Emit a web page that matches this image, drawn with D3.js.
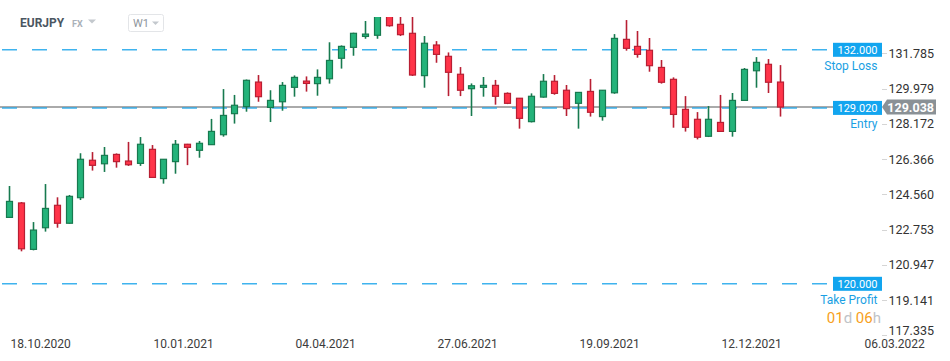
<!DOCTYPE html>
<html>
<head>
<meta charset="utf-8">
<script src="https://cdn.jsdelivr.net/npm/d3@7"></script>
<style>
  html, body { margin: 0; padding: 0; background: #fff; }
  svg { display: block; font-family: Roboto, "Noto Sans", sans-serif; }
</style>
</head>
<body>
<svg id="chart" width="950" height="361"></svg>
<script>
// ---------- DATA ----------
const symbol = "EURJPY";
const market = "FX";
const interval = "W1";
const firstWeek = "2020-10-18";
const openV  = [123.38,124.12,121.74,122.85,124.00,123.08,124.39,126.31,126.13,126.61,
                126.27,126.15,126.87,125.37,126.24,127.13,126.82,127.11,127.62,128.70,
                129.06,130.32,129.02,129.31,130.05,130.37,130.24,130.49,131.54,132.10,
                132.66,132.72,133.75,133.28,132.82,130.65,132.22,131.64,130.72,129.98,
                130.05,130.15,129.74,129.49,128.29,129.55,130.36,129.90,129.23,129.84,
                128.55,129.77,132.51,132.15,131.95,131.07,130.46,128.92,128.41,127.54,
                128.25,127.79,129.38,130.90,131.23,130.32];
const highV  = [124.99,124.17,123.14,125.09,124.41,124.53,126.67,126.73,126.99,126.66,
                127.25,127.50,127.09,126.36,127.35,127.15,127.30,128.43,129.96,129.66,
                130.45,130.68,129.90,130.32,130.66,130.61,130.97,132.36,132.20,132.85,
                133.45,134.00,134.12,133.85,133.70,132.68,132.42,131.84,131.09,130.25,
                130.58,130.43,129.79,129.49,129.74,130.73,130.68,130.17,129.81,130.48,
                129.91,132.78,133.50,132.94,132.58,131.45,130.56,129.60,128.78,129.09,
                129.66,129.76,131.04,131.60,131.50,131.19];
const lowV   = [123.35,121.64,121.69,122.65,122.85,123.06,124.27,125.78,125.71,125.93,
                126.02,126.02,125.40,125.11,125.62,126.06,126.44,127.11,127.52,128.19,
                128.80,129.31,128.27,128.85,129.57,129.83,129.62,130.24,131.01,131.67,
                132.54,132.54,133.16,132.68,130.63,130.03,131.31,129.60,129.60,128.58,
                129.57,129.16,129.19,127.93,128.25,129.52,129.67,128.58,127.93,128.55,
                128.34,129.72,131.93,131.57,130.85,130.24,127.98,127.78,127.38,127.50,
                127.76,127.52,129.37,130.03,129.76,128.55];
const closeV = [124.20,121.77,122.73,123.84,123.08,124.46,126.36,126.05,126.56,126.24,
                126.08,127.13,125.43,126.36,127.13,126.97,127.18,127.79,128.61,129.13,
                130.41,129.57,129.38,130.15,130.56,130.25,130.56,131.43,132.15,132.82,
                132.78,133.80,133.21,132.75,130.68,132.31,131.74,130.82,129.90,130.13,
                130.15,129.59,129.23,128.46,129.59,130.36,129.74,128.96,129.79,128.77,
                129.90,132.56,132.05,131.74,131.16,130.31,128.66,128.00,127.49,128.41,
                127.79,129.38,130.97,131.33,130.31,129.04];
const yTickValues = [131.785,129.979,128.172,126.366,124.560,122.753,120.947,119.141,117.335];
const xTickDates = ["2020-10-18","2021-01-10","2021-04-04","2021-06-27","2021-09-19","2021-12-12","2022-03-06"];
const levelNames  = ["Stop Loss","Entry","Take Profit"];
const levelValues = [132.000, 129.020, 120.000];
const lastPrice = 129.038;
const countdown = [["01","num"],["d ","unit"],["06","num"],["h","unit"]];

// ---------- SCALES ----------
const parse = d3.utcParse("%Y-%m-%d");
const start = parse(firstWeek);
const dates = openV.map((_, i) => d3.utcDay.offset(start, 7 * i));
const candles = dates.map((d, i) => ({date: d, o: openV[i], h: highV[i], l: lowV[i], c: closeV[i]}));

const x = d3.scaleUtc()
  .domain([parse("2020-10-18"), parse("2022-03-06")])
  .range([9.3, 862.5]);
const y = d3.scaleLinear().domain([120, 132]).range([283.3, 49.3]);

const svg = d3.select("#chart");
const GREEN = "#24b37a", GREEN_D = "#177a4f";
const RED = "#ff3449", RED_D = "#b81f33";
const BLUE = "#1ea6ec";

svg.append("defs").append("clipPath").attr("id", "plotclip")
  .append("rect").attr("x", 0).attr("y", 17).attr("width", 880).attr("height", 320);

// ---------- HEADER ----------
svg.append("text").attr("x", 20).attr("y", 27).attr("font-size", 12).attr("font-weight", 700)
  .attr("fill", "#4b5661").text(symbol);
svg.append("text").attr("x", 72).attr("y", 27).attr("font-size", 9).attr("font-weight", 700)
  .attr("fill", "#aab1b9").text(market);
svg.append("path").attr("d", "M88,19.5 L96,19.5 L92,23.5 Z").attr("fill", "#c3c8cd");
svg.append("rect").attr("x", 128.5).attr("y", 14.5).attr("width", 35).attr("height", 17).attr("rx", 2)
  .attr("fill", "#fff").attr("stroke", "#e3e5e8");
svg.append("text").attr("x", 133).attr("y", 27).attr("font-size", 11).attr("fill", "#8d949b").text(interval);
svg.append("path").attr("d", "M152,21.5 L159,21.5 L155.5,25 Z").attr("fill", "#c3c8cd");

// ---------- LEVEL LINES ----------
const plot = svg.append("g").attr("clip-path", "url(#plotclip)");

// current price gray line
plot.append("line").attr("x1", 0).attr("x2", 884)
  .attr("y1", y(lastPrice)).attr("y2", y(lastPrice))
  .attr("stroke", "#8e8e8e").attr("stroke-width", 1.5);

levelValues.forEach(v => {
  plot.append("line").attr("x1", 2).attr("x2", 827)
    .attr("y1", y(v) + 0.5).attr("y2", y(v) + 0.5)
    .attr("stroke", BLUE).attr("stroke-width", 1.5).attr("stroke-dasharray", "15,15")
    .attr("opacity", 0.85);
});

// ---------- CANDLES ----------
const bw = 6;
const cg = plot.append("g");
candles.forEach(d => {
  const up = d.c >= d.o;
  const fill = up ? GREEN : RED, stroke = up ? GREEN_D : RED_D;
  const cx = Math.round(x(d.date)) + 0.5;
  cg.append("line").attr("x1", cx).attr("x2", cx).attr("y1", y(d.h)).attr("y2", y(d.l))
    .attr("stroke", stroke).attr("stroke-width", 1.6);
  const top = y(Math.max(d.o, d.c)), bot = y(Math.min(d.o, d.c));
  cg.append("rect").attr("x", cx - bw / 2).attr("y", top)
    .attr("width", bw).attr("height", Math.max(1.5, bot - top))
    .attr("fill", fill).attr("stroke", stroke).attr("stroke-width", 1.2);
});

// ---------- LEVEL LABELS ----------
const fmt3 = d3.format(".3f");
levelValues.forEach((v, i) => {
  const yy = y(v) + 0.5;
  svg.append("rect").attr("x", 833).attr("y", yy - 7).attr("width", 49).attr("height", 14)
    .attr("fill", "#12a5ef");
  svg.append("text").attr("x", 857.5).attr("y", yy).attr("dy", "0.36em")
    .attr("text-anchor", "middle").attr("font-size", 11).attr("fill", "#fff").text(fmt3(v));
  svg.append("text").attr("x", 877.5).attr("y", yy + 16).attr("dy", "0.36em")
    .attr("text-anchor", "end").attr("font-size", 12).attr("fill", "#1a9fe3").text(levelNames[i]);
});

// countdown under Take Profit
const cd = svg.append("text").attr("x", 881).attr("y", y(levelValues[2]) + 34).attr("dy", "0.36em")
  .attr("text-anchor", "end").attr("font-size", 15).attr("xml:space", "preserve")
  .style("white-space", "pre");
countdown.forEach(([t, k]) => cd.append("tspan").attr("fill", k === "num" ? "#f7a021" : "#bfc3c7").text(t));

// ---------- Y AXIS ----------
const ya = svg.append("g");
yTickValues.forEach(v => {
  const yy = Math.min(y(v), 330);
  ya.append("line").attr("x1", 882).attr("x2", 887).attr("y1", Math.round(y(v)) + 0.5).attr("y2", Math.round(y(v)) + 0.5)
    .attr("stroke", "#d5d5d5");
  ya.append("text").attr("x", 934).attr("y", yy).attr("dy", "0.36em").attr("text-anchor", "end")
    .attr("font-size", 12.5).attr("fill", "#333").text(fmt3(v));
});

// current price tag
const py = y(lastPrice);
svg.append("path")
  .attr("d", `M882,${py} L887,${py - 7.5} L936,${py - 7.5} L936,${py + 7.5} L887,${py + 7.5} Z`)
  .attr("fill", "#8a9196");
svg.append("text").attr("x", 934).attr("y", py).attr("dy", "0.36em").attr("text-anchor", "end")
  .attr("font-size", 12.5).attr("font-weight", 700).attr("fill", "#fff").text(fmt3(lastPrice));

// ---------- X AXIS ----------
const fmtDate = d3.utcFormat("%d.%m.%Y");
const xa = svg.append("g");
xTickDates.map(parse).forEach(d => {
  const xx = Math.round(x(d)) + 0.5;
  xa.append("text").attr("x", xx + 1).attr("y", 347.5).attr("font-size", 12)
    .attr("fill", "#3c3c3c").text(fmtDate(d));
});
</script>
</body>
</html>
